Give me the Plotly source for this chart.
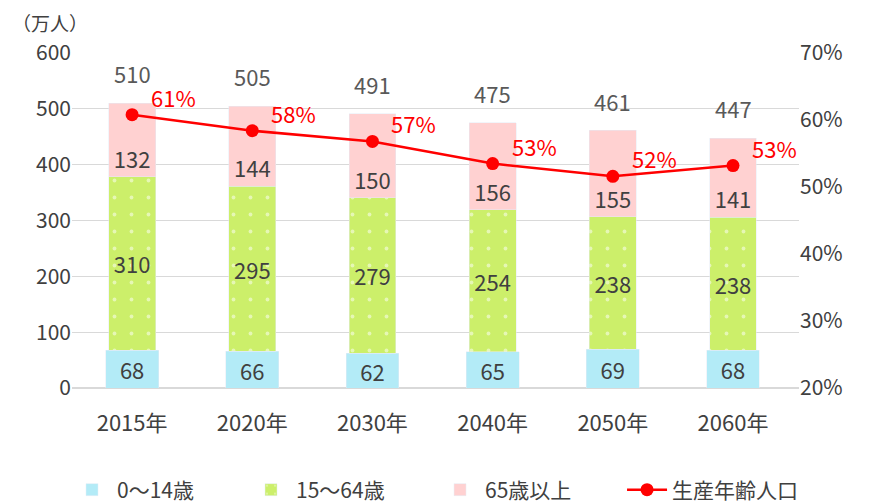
import plotly.graph_objects as go

years = ["2015年", "2020年", "2030年", "2040年", "2050年", "2060年"]
age0_14 = [68, 66, 62, 65, 69, 68]
age15_64 = [310, 295, 279, 254, 238, 238]
age65 = [132, 144, 150, 156, 155, 141]
totals = [510, 505, 491, 475, 461, 447]
ratio = [0.608, 0.584, 0.568, 0.535, 0.516, 0.532]
ratio_labels = ["61%", "58%", "57%", "53%", "52%", "53%"]

FONT = "Noto Sans CJK JP, Noto Sans, sans-serif"
GRAY = "#404040"
LBL = 22

fig = go.Figure()
fig.add_trace(go.Bar(x=years, y=age0_14, name="0～14歳", marker_color="#B3EBF7",
                     width=0.44, text=[str(v) for v in age0_14], textposition="inside",
                     insidetextanchor="middle", textangle=0, constraintext="none",
                     textfont=dict(size=LBL, color=GRAY), legend="legend"))
fig.add_trace(go.Bar(x=years, y=age15_64, name="15～64歳",
                     marker=dict(color="#CCEF6A",
                                 pattern=dict(shape=".", fgcolor="white", bgcolor="#CCEF6A",
                                              size=17, solidity=0.04, fillmode="overlay")),
                     width=0.39, text=[str(v) for v in age15_64], textposition="inside",
                     insidetextanchor="middle", textangle=0, constraintext="none",
                     textfont=dict(size=LBL, color=GRAY), legend="legend2"))
fig.add_trace(go.Bar(x=years, y=age65, name="65歳以上", marker_color="#FFD1D1",
                     width=0.39, text=[str(v) for v in age65], textposition="inside",
                     insidetextanchor="start", textangle=0, constraintext="none",
                     textfont=dict(size=LBL, color=GRAY), legend="legend3"))
fig.add_trace(go.Scatter(x=years, y=ratio, name="生産年齢人口", yaxis="y2",
                         mode="lines+markers",
                         line=dict(color="#FF0000", width=2.5),
                         marker=dict(color="#FF0000", size=13), cliponaxis=False,
                         legend="legend4"))

for yr, r, lab in zip(years, ratio, ratio_labels):
    fig.add_annotation(x=yr, y=r, yref="y2", text=lab, showarrow=False,
                       xanchor="left", yanchor="middle", xshift=17, yshift=18,
                       font=dict(size=LBL, color="#FF0000", family=FONT))

for yr, t in zip(years, totals):
    fig.add_annotation(x=yr, y=t, text=str(t), showarrow=False, yanchor="bottom",
                       yshift=12, font=dict(size=LBL, color="#595959", family=FONT))

fig.add_annotation(xref="paper", yref="paper", x=-0.085, y=1.09, xanchor="left",
                   yanchor="middle", text="（万人）", showarrow=False,
                   font=dict(size=19, color=GRAY, family=FONT))


def leg(xpos):
    return dict(orientation="h", xref="container", yref="container", x=xpos,
                xanchor="left", y=0.0437, yanchor="middle", font=dict(size=21),
                itemwidth=40, bgcolor="rgba(0,0,0,0)")


fig.update_layout(
    width=869, height=504, barmode="stack", bargap=0.6,
    margin=dict(l=64, r=78, t=45, b=124, autoexpand=False),
    paper_bgcolor="white", plot_bgcolor="white",
    font=dict(family=FONT, size=21, color=GRAY),
    xaxis=dict(showgrid=False, showline=False, ticks="", tickfont=dict(size=22),
               ticklabelstandoff=20, automargin=False),
    yaxis=dict(range=[0, 600], dtick=100, gridcolor="#D9D9D9", zeroline=True,
               zerolinecolor="#D9D9D9", showline=False, ticks="", tickfont=dict(size=21),
               automargin=False),
    yaxis2=dict(range=[0.2, 0.7], dtick=0.1, tickformat=".0%", overlaying="y",
                side="right", showgrid=False, zeroline=False, showline=False,
                tickfont=dict(size=21), automargin=False),
    legend=leg(0.0679),
    legend2=leg(0.2739),
    legend3=leg(0.4914),
    legend4=leg(0.7066),
    showlegend=True,
)
fig.write_html("out.html")
